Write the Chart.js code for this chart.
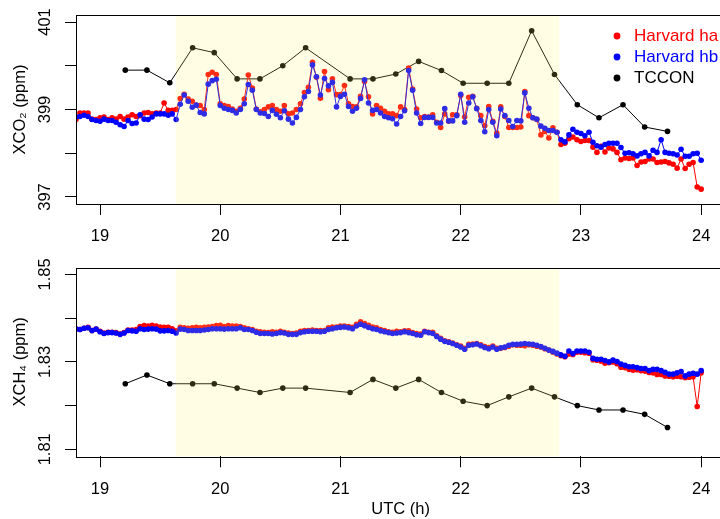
<!DOCTYPE html>
<html>
<head>
<meta charset="utf-8">
<script src="https://cdn.jsdelivr.net/npm/chart.js@4.4.1/dist/chart.umd.min.js"></script>
<style>
  html, body { margin: 0; padding: 0; background: #fff; width: 720px; height: 519px; overflow: hidden; }
  canvas { position: absolute; left: 0; }
  #co2-chart { top: 0; }
  #ch4-chart { top: 250px; }
</style>
</head>
<body>
<canvas id="co2-chart" width="728" height="250"></canvas>
<canvas id="ch4-chart" width="728" height="269"></canvas>
<script>
// aircraft samples, every 2 min (UTC hours)
const times = [
  18.800, 18.833, 18.867, 18.900, 18.933, 18.967,
  19.000, 19.033, 19.067, 19.100, 19.133, 19.167, 19.200, 19.233, 19.267, 19.300, 19.333, 19.367, 19.400, 19.433, 19.467,
  19.500, 19.533, 19.567, 19.600, 19.633, 19.667, 19.700, 19.733, 19.767, 19.800, 19.833, 19.867, 19.900, 19.933, 19.967,
  20.000, 20.033, 20.067, 20.100, 20.133, 20.167, 20.200, 20.233, 20.267, 20.300, 20.333, 20.367, 20.400, 20.433, 20.467,
  20.500, 20.533, 20.567, 20.600, 20.633, 20.667, 20.700, 20.733, 20.767, 20.800, 20.833, 20.867, 20.900, 20.933, 20.967,
  21.000, 21.033, 21.067, 21.100, 21.133, 21.167, 21.200, 21.233, 21.267, 21.300, 21.333, 21.367, 21.400, 21.433, 21.467,
  21.500, 21.533, 21.567, 21.600, 21.633, 21.667, 21.700, 21.733, 21.767, 21.800, 21.833, 21.867, 21.900, 21.933, 21.967,
  22.000, 22.033, 22.067, 22.100, 22.133, 22.167, 22.200, 22.233, 22.267, 22.300, 22.333, 22.367, 22.400, 22.433, 22.467,
  22.500, 22.533, 22.567, 22.600, 22.633, 22.667, 22.700, 22.733, 22.767, 22.800, 22.833, 22.867, 22.900, 22.933, 22.967,
  23.000, 23.033, 23.067, 23.100, 23.133, 23.167, 23.200, 23.233, 23.267, 23.300, 23.333, 23.367, 23.400, 23.433, 23.467,
  23.500, 23.533, 23.567, 23.600, 23.633, 23.667, 23.700, 23.733, 23.767, 23.800, 23.833, 23.867, 23.900, 23.933, 23.967,
  24.000
];

const haCO2 = [
  398.77, 398.92, 398.92, 398.92, 398.78, 398.77, 398.81, 398.83, 398.77, 398.81,
  398.78, 398.84, 398.78, 398.83, 398.88, 398.84, 398.86, 398.92, 398.93, 398.90,
  398.92, 398.92, 399.15, 398.98, 398.98, 399.00, 399.25, 399.35, 399.24, 399.19,
  399.10, 399.09, 399.00, 399.80, 399.85, 399.80, 399.13, 399.09, 399.07, 399.01,
  398.96, 399.03, 399.24, 399.79, 399.49, 399.01, 398.95, 399.00, 399.06, 399.09,
  399.00, 398.96, 399.09, 398.90, 398.92, 399.00, 399.13, 399.39, 399.51, 400.08,
  399.74, 399.26, 399.87, 399.45, 399.70, 399.34, 399.34, 399.55, 399.13, 399.07,
  399.06, 399.30, 399.64, 399.29, 398.90, 399.09, 399.03, 398.96, 398.90, 398.90,
  398.86, 399.06, 399.00, 399.95, 399.47, 399.01, 398.81, 398.84, 398.83, 398.88,
  398.71, 398.59, 398.90, 398.73, 398.88, 398.88, 399.32, 398.83, 399.28, 399.30,
  399.03, 398.86, 398.63, 399.07, 398.73, 398.46, 399.06, 398.84, 398.59, 398.59,
  398.59, 398.60, 399.41, 398.86, 398.81, 398.77, 398.42, 398.50, 398.35, 398.58,
  398.48, 398.20, 398.23, 398.33, 398.37, 398.31, 398.27, 398.29, 398.29, 398.14,
  398.02, 398.16, 398.03, 398.12, 398.10, 398.02, 397.85, 397.89, 397.88, 397.89,
  397.72, 397.80, 397.81, 397.87, 397.87, 397.79, 397.80, 397.81, 397.78, 397.75,
  397.66, 397.87, 397.65, 397.75, 397.79, 397.23, 397.18
];

const hbCO2 = [
  398.83, 398.84, 398.87, 398.84, 398.77, 398.75, 398.73, 398.78, 398.75, 398.75,
  398.71, 398.65, 398.61, 398.75, 398.68, 398.69, 398.88, 398.78, 398.77, 398.83,
  398.90, 398.90, 398.90, 398.87, 398.90, 398.77, 399.12, 399.33, 399.19, 399.05,
  399.10, 398.93, 398.90, 399.58, 399.66, 399.69, 399.09, 399.03, 399.00, 398.98,
  398.92, 399.00, 399.13, 399.57, 399.44, 399.00, 398.92, 398.91, 398.84, 398.98,
  398.89, 398.81, 398.97, 398.78, 398.69, 398.82, 399.00, 399.29, 399.41, 400.02,
  399.75, 399.33, 399.71, 399.54, 399.62, 399.06, 399.30, 399.35, 399.07, 398.96,
  399.03, 399.25, 399.68, 399.15, 398.98, 399.00, 398.92, 398.84, 398.81, 398.79,
  398.67, 398.84, 398.97, 399.89, 399.44, 398.92, 398.68, 398.82, 398.82, 398.82,
  398.69, 398.69, 399.02, 398.74, 398.74, 398.86, 399.35, 398.71, 399.15, 399.29,
  399.02, 398.75, 398.49, 399.00, 398.71, 398.40, 399.01, 398.86, 398.75, 398.61,
  398.75, 398.74, 399.38, 399.03, 398.81, 398.78, 398.62, 398.57, 398.52, 398.52,
  398.48, 398.31, 398.26, 398.42, 398.55, 398.48, 398.45, 398.40, 398.48, 398.25,
  398.17, 398.14, 398.20, 398.23, 398.23, 398.23, 398.13, 398.00, 398.01, 397.99,
  397.94, 397.99, 398.02, 397.94, 398.07, 398.02, 398.31, 398.02, 398.00, 397.99,
  397.96, 398.09, 397.93, 397.93, 397.99, 398.00, 397.84
];

const haCH4 = [
  1.8376, 1.8374, 1.8377, 1.8379, 1.8372, 1.8375, 1.8370, 1.8366, 1.8368, 1.8368,
  1.8367, 1.8364, 1.8367, 1.8373, 1.8373, 1.8374, 1.8381, 1.8383, 1.8382, 1.8384,
  1.8382, 1.8380, 1.8379, 1.8379, 1.8376, 1.8371, 1.8379, 1.8378, 1.8377, 1.8378,
  1.8379, 1.8378, 1.8379, 1.8380, 1.8381, 1.8383, 1.8384, 1.8381, 1.8383, 1.8382,
  1.8382, 1.8381, 1.8378, 1.8376, 1.8374, 1.8370, 1.8369, 1.8368, 1.8367, 1.8369,
  1.8368, 1.8370, 1.8368, 1.8366, 1.8365, 1.8366, 1.8370, 1.8372, 1.8372, 1.8373,
  1.8372, 1.8372, 1.8372, 1.8378, 1.8380, 1.8380, 1.8382, 1.8382, 1.8381, 1.8379,
  1.8386, 1.8392, 1.8388, 1.8384, 1.8380, 1.8378, 1.8374, 1.8372, 1.8369, 1.8368,
  1.8370, 1.8369, 1.8371, 1.8371, 1.8367, 1.8365, 1.8364, 1.8370, 1.8368, 1.8368,
  1.8360, 1.8354, 1.8348, 1.8346, 1.8343, 1.8339, 1.8336, 1.8331, 1.8340, 1.8341,
  1.8342, 1.8339, 1.8335, 1.8333, 1.8336, 1.8331, 1.8331, 1.8333, 1.8336, 1.8339,
  1.8338, 1.8338, 1.8337, 1.8339, 1.8338, 1.8336, 1.8334, 1.8330, 1.8327, 1.8322,
  1.8318, 1.8314, 1.8312, 1.8318, 1.8317, 1.8322, 1.8322, 1.8321, 1.8320, 1.8305,
  1.8304, 1.8302, 1.8297, 1.8298, 1.8300, 1.8296, 1.8288, 1.8287, 1.8283, 1.8281,
  1.8282, 1.8280, 1.8279, 1.8276, 1.8275, 1.8271, 1.8271, 1.8268, 1.8267, 1.8266,
  1.8267, 1.8266, 1.8264, 1.8265, 1.8266, 1.8198, 1.8275
];

const hbCH4 = [
  1.8375, 1.8374, 1.8377, 1.8378, 1.8372, 1.8375, 1.8369, 1.8365, 1.8367, 1.8367,
  1.8366, 1.8363, 1.8366, 1.8372, 1.8371, 1.8370, 1.8376, 1.8374, 1.8375, 1.8376,
  1.8375, 1.8371, 1.8371, 1.8372, 1.8370, 1.8366, 1.8375, 1.8374, 1.8372, 1.8372,
  1.8372, 1.8372, 1.8373, 1.8374, 1.8376, 1.8376, 1.8376, 1.8375, 1.8376, 1.8376,
  1.8376, 1.8378, 1.8374, 1.8374, 1.8372, 1.8368, 1.8365, 1.8365, 1.8365, 1.8364,
  1.8365, 1.8367, 1.8366, 1.8363, 1.8363, 1.8363, 1.8367, 1.8369, 1.8370, 1.8370,
  1.8370, 1.8369, 1.8370, 1.8374, 1.8376, 1.8378, 1.8379, 1.8380, 1.8378, 1.8376,
  1.8382, 1.8386, 1.8383, 1.8379, 1.8376, 1.8374, 1.8371, 1.8369, 1.8367, 1.8365,
  1.8366, 1.8367, 1.8369, 1.8367, 1.8365, 1.8362, 1.8361, 1.8369, 1.8367, 1.8365,
  1.8358, 1.8352, 1.8347, 1.8345, 1.8342, 1.8338, 1.8334, 1.8329, 1.8338, 1.8339,
  1.8341, 1.8337, 1.8333, 1.8330, 1.8334, 1.8329, 1.8332, 1.8334, 1.8338, 1.8340,
  1.8340, 1.8341, 1.8342, 1.8341, 1.8340, 1.8338, 1.8335, 1.8331, 1.8327, 1.8324,
  1.8320, 1.8316, 1.8313, 1.8325, 1.8319, 1.8325, 1.8325, 1.8325, 1.8322, 1.8308,
  1.8306, 1.8306, 1.8303, 1.8300, 1.8304, 1.8301, 1.8295, 1.8292, 1.8289, 1.8289,
  1.8287, 1.8285, 1.8285, 1.8280, 1.8283, 1.8283, 1.8280, 1.8276, 1.8272, 1.8272,
  1.8275, 1.8278, 1.8268, 1.8272, 1.8274, 1.8272, 1.8280
];

// TCCON retrievals
const tcconTimes = [
  19.21, 19.39, 19.58, 19.77, 19.95, 20.14, 20.33, 20.52, 20.71, 21.08, 21.27, 21.46,
  21.65, 21.84, 22.02, 22.22, 22.40, 22.59, 22.78, 22.97, 23.15, 23.35, 23.53, 23.72
];
const tcconCO2 = [
  399.90, 399.90, 399.61, 400.41, 400.30, 399.70, 399.70, 400.00, 400.41, 399.70, 399.70, 399.81,
  400.10, 399.89, 399.60, 399.60, 399.60, 400.80, 399.80, 399.11, 398.81, 399.11, 398.60, 398.50
];
const tcconCH4 = [
  1.825, 1.827, 1.825, 1.825, 1.825, 1.824, 1.823, 1.824, 1.824, 1.823, 1.826, 1.824,
  1.826, 1.823, 1.821, 1.820, 1.822, 1.824, 1.822, 1.820, 1.819, 1.819, 1.818, 1.815
];

// overpass window (shaded)
const shadeStart = 19.63;
const shadeEnd = 22.82;

const xTicks = [19, 20, 21, 22, 23, 24];
const co2Ticks = [397, 398, 399, 400, 401];
const co2TickLabels = ["397", "", "399", "", "401"];
const ch4Ticks = [1.81, 1.82, 1.83, 1.84, 1.85];
const ch4TickLabels = ["1.81", "", "1.83", "", "1.85"];

const legendNames = ["Harvard ha", "Harvard hb", "TCCON"];
const legendColors = ["#ff0000", "#0000ff", "#000000"];

const FONT = "'Liberation Sans', Arial, Helvetica, sans-serif";

function pts(xs, ys) {
  return xs.map((t, i) => ({ x: t, y: ys[i] }));
}

function series(data, color, order) {
  return {
    data, order,
    borderColor: color, backgroundColor: color,
    borderWidth: 1, tension: 0,
    pointRadius: 2.8, pointBorderWidth: 0, pointHoverRadius: 0,
    pointBackgroundColor: color,
  };
}

const panelPlugin = {
  id: "panel",
  afterDatasetsDraw(chart) {
    const { ctx, chartArea: a, scales: { x } } = chart;
    const x0 = x.getPixelForValue(shadeStart);
    const x1 = x.getPixelForValue(shadeEnd);
    ctx.save();
    ctx.fillStyle = "rgba(255, 250, 110, 0.18)";
    ctx.fillRect(x0, a.top, x1 - x0, a.bottom - a.top);
    ctx.restore();
  },
  afterDraw(chart, args, opts) {
    const { ctx, chartArea: a, scales: { y } } = chart;
    ctx.save();
    ctx.strokeStyle = "#000";
    ctx.lineWidth = 1;
    ctx.strokeRect(Math.round(a.left) + 0.5, Math.round(a.top) + 0.5,
      Math.round(a.right - a.left), Math.round(a.bottom - a.top));

    // rotated y tick labels, R style
    ctx.font = "16.5px " + FONT;
    ctx.fillStyle = "#000";
    ctx.textAlign = "center";
    ctx.textBaseline = "middle";
    y.ticks.forEach((t, i) => {
      const label = opts.tickLabels[i];
      if (!label) return;
      ctx.save();
      ctx.translate(a.left - 30.5, y.getPixelForValue(t.value));
      ctx.rotate(-Math.PI / 2);
      ctx.fillText(label, 0, 0);
      ctx.restore();
    });

    if (opts.legend) {
      ctx.font = "17px " + FONT;
      ctx.textAlign = "left";
      legendNames.forEach((name, i) => {
        const ly = a.top + 21 + i * 21;
        ctx.fillStyle = legendColors[i];
        ctx.beginPath();
        ctx.arc(a.left + 541, ly, 3.4, 0, Math.PI * 2);
        ctx.fill();
        ctx.fillText(name, a.left + 558, ly);
      });
    }
    ctx.restore();
  },
};

function makePanel(id, cfg) {
  const tickFont = { family: FONT, size: 16.5 };
  return new Chart(document.getElementById(id), {
    type: "line",
    data: {
      datasets: [
        series(pts(times, cfg.ha), "#ff0000", 1),
        series(pts(times, cfg.hb), "#0000ff", 0),
        series(pts(tcconTimes, cfg.tccon), "#000000", 2),
      ],
    },
    options: {
      responsive: false,
      animation: false,
      events: [],
      layout: { padding: { top: cfg.top, left: 0, right: 0, bottom: 0 } },
      plugins: {
        legend: { display: false },
        tooltip: { enabled: false },
        panel: { legend: cfg.legend, tickLabels: cfg.tickLabels },
      },
      scales: {
        x: {
          type: "linear", min: 18.8, max: 24.2,
          afterBuildTicks: s => { s.ticks = xTicks.map(v => ({ value: v })); },
          afterFit: s => { s.height = cfg.xHeight; },
          ticks: { font: tickFont, color: "#000", padding: 12, maxRotation: 0, autoSkip: false },
          grid: { drawOnChartArea: false, drawTicks: true, tickLength: 11, color: "#000", lineWidth: 1 },
          border: { display: false },
          title: {
            display: !!cfg.xTitle, text: cfg.xTitle, color: "#000",
            font: { family: FONT, size: 16.5, lineHeight: 1.1 }, padding: { top: 0, bottom: 0 },
          },
        },
        y: {
          type: "linear", min: cfg.ymin, max: cfg.ymax,
          afterBuildTicks: s => { s.ticks = cfg.ticks.map(v => ({ value: v })); },
          afterFit: s => { s.width = 76; },
          ticks: { display: false, autoSkip: false },
          grid: { drawOnChartArea: false, drawTicks: true, tickLength: 11, color: "#000", lineWidth: 1 },
          border: { display: false },
          title: {
            display: true, text: cfg.yTitle, color: "#000",
            font: { family: FONT, size: 16.5, lineHeight: 1.2 }, padding: { top: 10.8, bottom: 0 },
          },
        },
      },
    },
    plugins: [panelPlugin],
  });
}

makePanel("co2-chart", {
  ha: haCO2, hb: hbCO2, tccon: tcconCO2,
  ymin: 396.84, ymax: 401.16, ticks: co2Ticks, tickLabels: co2TickLabels,
  yTitle: "XCO\u2082 (ppm)", top: 15, xHeight: 46, legend: true,
});

makePanel("ch4-chart", {
  ha: haCH4, hb: hbCH4, tccon: tcconCH4,
  ymin: 1.8084, ymax: 1.8516, ticks: ch4Ticks, tickLabels: ch4TickLabels,
  yTitle: "XCH\u2084 (ppm)", xTitle: "UTC (h)", top: 17.5, xHeight: 62.7, legend: false,
});
</script>
</body>
</html>
